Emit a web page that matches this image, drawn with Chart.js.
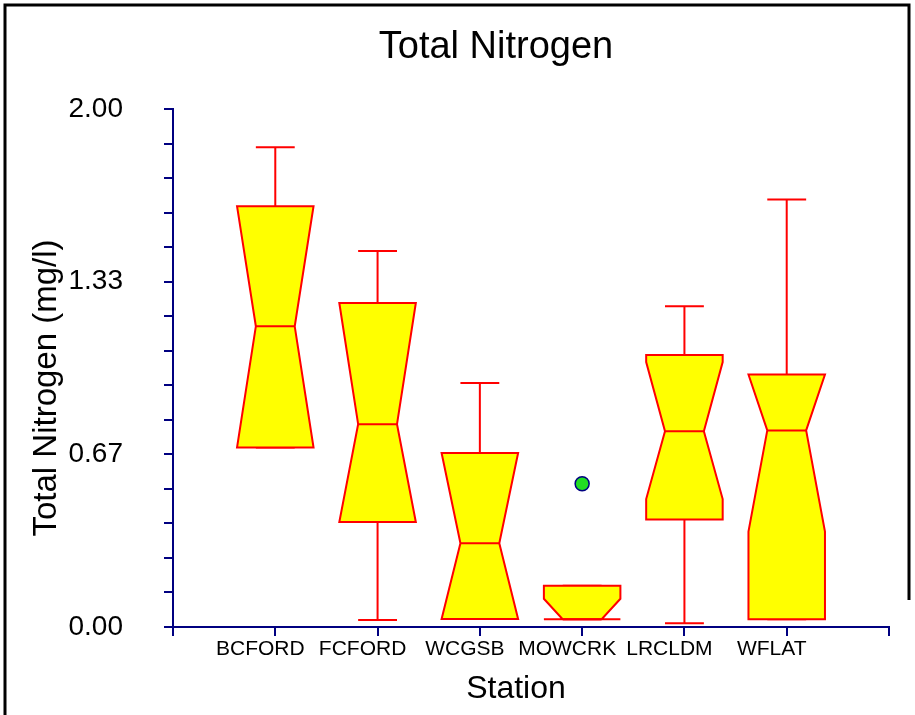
<!DOCTYPE html>
<html>
<head>
<meta charset="utf-8">
<title>Total Nitrogen</title>
<script src="https://cdn.jsdelivr.net/npm/chart.js@4.4.1/dist/chart.umd.min.js"></script>
<style>
  html, body { margin: 0; padding: 0; background: #ffffff; }
  canvas { display: block; }
</style>
</head>
<body>
<canvas id="chart" width="915" height="715"></canvas>
<script>
// values (mg/l)
const categories = ["BCFORD", "FCFORD", "WCGSB", "MOWCRK", "LRCLDM", "WFLAT"];
const whiskerHigh = [1.852, 1.452, 0.942, 0.159, 1.238, 1.651];
const q3 = [1.625, 1.251, 0.672, 0.159, 1.050, 0.975];
const notchHigh = [1.625, 1.251, 0.672, 0.109, 1.023, 0.975];
const median = [1.161, 0.783, 0.323, 0.030, 0.756, 0.759];
const notchLow = [0.693, 0.405, 0.031, 0.030, 0.494, 0.368];
const q1 = [0.693, 0.405, 0.031, 0.030, 0.415, 0.030];
const whiskerLow = [0.693, 0.027, 0.031, 0.030, 0.014, 0.030];

const outlierStation = ["MOWCRK"];
const outlierValue = [0.553];

const yTickLabels = ["0.00", "0.67", "1.33", "2.00"];
const yMinorPerMajor = 5;

const FONT = '"Liberation Sans", Arial, sans-serif';
const AXIS_BLUE = "#000080";

const boxPlugin = {
  id: "notchedBoxes",
  beforeDatasetsDraw(chart) {
    const ctx = chart.ctx;
    const x = chart.scales.x;
    const y = chart.scales.y;
    const unit = x.getPixelForValue(1) - x.getPixelForValue(0);
    const half = unit * 0.374;
    const notchHalf = unit * 0.19;
    const capHalf = unit * 0.19;

    ctx.save();
    ctx.strokeStyle = "#ff0000";
    ctx.lineWidth = 2;
    categories.forEach((name, i) => {
      const cx = x.getPixelForValue(i + 1);

      // whiskers + caps
      ctx.beginPath();
      ctx.moveTo(cx, y.getPixelForValue(q3[i]));
      ctx.lineTo(cx, y.getPixelForValue(whiskerHigh[i]));
      ctx.moveTo(cx - capHalf, y.getPixelForValue(whiskerHigh[i]));
      ctx.lineTo(cx + capHalf, y.getPixelForValue(whiskerHigh[i]));
      ctx.moveTo(cx, y.getPixelForValue(q1[i]));
      ctx.lineTo(cx, y.getPixelForValue(whiskerLow[i]));
      ctx.moveTo(cx - capHalf, y.getPixelForValue(whiskerLow[i]));
      ctx.lineTo(cx + capHalf, y.getPixelForValue(whiskerLow[i]));
      ctx.stroke();

      // notched box
      const yQ3 = y.getPixelForValue(q3[i]);
      const yNH = y.getPixelForValue(notchHigh[i]);
      const yMed = y.getPixelForValue(median[i]);
      const yNL = y.getPixelForValue(notchLow[i]);
      const yQ1 = y.getPixelForValue(q1[i]);
      ctx.beginPath();
      ctx.moveTo(cx - half, yQ3);
      ctx.lineTo(cx - half, yNH);
      ctx.lineTo(cx - notchHalf, yMed);
      ctx.lineTo(cx - half, yNL);
      ctx.lineTo(cx - half, yQ1);
      ctx.lineTo(cx + half, yQ1);
      ctx.lineTo(cx + half, yNL);
      ctx.lineTo(cx + notchHalf, yMed);
      ctx.lineTo(cx + half, yNH);
      ctx.lineTo(cx + half, yQ3);
      ctx.closePath();
      ctx.fillStyle = "#ffff00";
      ctx.fill();
      ctx.stroke();

      // median
      ctx.beginPath();
      ctx.moveTo(cx - notchHalf, yMed);
      ctx.lineTo(cx + notchHalf, yMed);
      ctx.stroke();
    });
    ctx.restore();
  },
};

const textPlugin = {
  id: "titlesAndFrame",
  afterDraw(chart) {
    const ctx = chart.ctx;
    ctx.save();
    ctx.fillStyle = "#000000";
    ctx.textAlign = "center";
    ctx.textBaseline = "alphabetic";

    ctx.font = "38px " + FONT;
    ctx.fillText("Total Nitrogen", 496, 58);

    ctx.font = "32px " + FONT;
    ctx.fillText("Station", 516, 698);

    ctx.font = "33px " + FONT;
    ctx.save();
    ctx.translate(56, 388);
    ctx.rotate(-Math.PI / 2);
    ctx.fillText("Total Nitrogen (mg/l)", 0, 0);
    ctx.restore();

    // frame
    ctx.strokeStyle = "#000000";
    ctx.lineWidth = 3;
    ctx.beginPath();
    ctx.moveTo(5, 715);
    ctx.lineTo(5, 5);
    ctx.lineTo(909, 5);
    ctx.lineTo(909, 600);
    ctx.stroke();
    ctx.restore();
  },
};

const ctx = document.getElementById("chart").getContext("2d");

new Chart(ctx, {
  type: "scatter",
  data: {
    datasets: [
      {
        label: "Outliers",
        data: outlierStation.map((s, i) => ({
          x: categories.indexOf(s) + 1,
          y: outlierValue[i],
        })),
        pointRadius: 7,
        pointBackgroundColor: "#22dd22",
        pointBorderColor: AXIS_BLUE,
        pointBorderWidth: 1.5,
      },
    ],
  },
  options: {
    responsive: false,
    animation: false,
    layout: {
      padding: { top: 109, right: 26, left: 0, bottom: 0 },
    },
    plugins: {
      legend: { display: false },
      tooltip: { enabled: false },
    },
    scales: {
      x: {
        type: "linear",
        min: 0,
        max: categories.length + 1,
        afterBuildTicks: (scale) => {
          scale.ticks = [0, ...categories.map((c, i) => i + 1), categories.length + 1].map((v) => ({ value: v }));
        },
        afterFit: (scale) => {
          scale.height = 88;
        },
        grid: {
          drawOnChartArea: false,
          drawTicks: true,
          tickLength: 9,
          color: AXIS_BLUE,
          lineWidth: 2,
        },
        border: { display: true, color: AXIS_BLUE, width: 2 },
        ticks: {
          autoSkip: false,
          maxRotation: 0,
          padding: 1,
          labelOffset: -15,
          color: "#000000",
          font: { family: FONT, size: 21 },
          callback: (value) => categories[value - 1] || "",
        },
      },
      y: {
        type: "linear",
        min: 0,
        max: 2,
        afterBuildTicks: (scale) => {
          const n = (yTickLabels.length - 1) * yMinorPerMajor;
          const ticks = [];
          for (let i = 0; i <= n; i++) ticks.push({ value: (2 * i) / n });
          scale.ticks = ticks;
        },
        afterFit: (scale) => {
          scale.width = 173;
        },
        grid: {
          drawOnChartArea: false,
          drawTicks: true,
          tickLength: 9,
          color: AXIS_BLUE,
          lineWidth: 2,
        },
        border: { display: true, color: AXIS_BLUE, width: 2 },
        ticks: {
          autoSkip: false,
          padding: 41,
          color: "#000000",
          font: { family: FONT, size: 28 },
          callback: (value, index) =>
            index % yMinorPerMajor === 0 ? yTickLabels[index / yMinorPerMajor] : "",
        },
      },
    },
  },
  plugins: [boxPlugin, textPlugin],
});
</script>
</body>
</html>
